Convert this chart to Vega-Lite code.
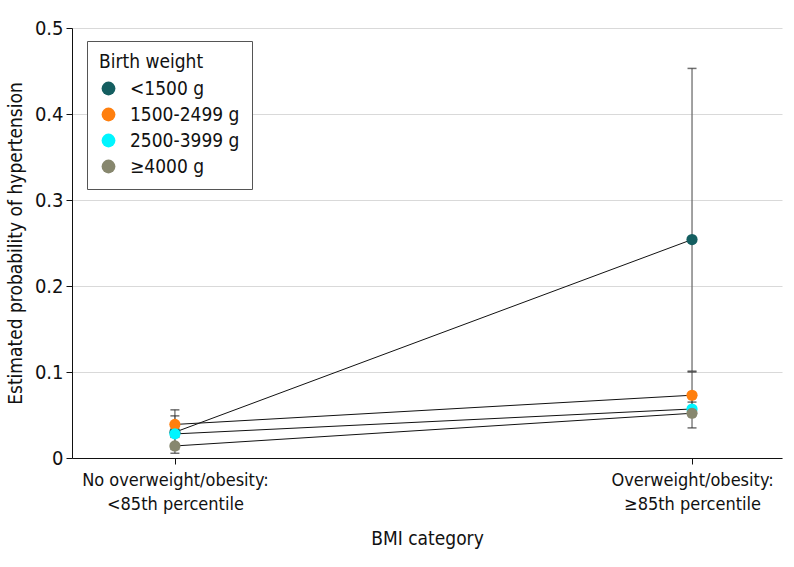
{
  "$schema": "https://vega.github.io/schema/vega-lite/v6.json",
  "width": 710,
  "height": 430,
  "autosize": {"type": "none"},
  "padding": {"left": 72, "top": 28, "right": 12, "bottom": 109},
  "background": "white",
  "config": {
    "font": "DejaVu Sans Condensed, Liberation Sans Narrow, Roboto, sans-serif",
    "view": {"stroke": null},
    "axis": {"labelFontSize": 18, "titleFontSize": 19, "labelColor": "#111", "titleColor": "#111", "titleFontWeight": "normal", "domainColor": "#111", "tickColor": "#111", "labelLimit": 400}
  },
  "data": {"values": [
    {"group": "<1500 g", "bmi": 0, "p": 0.030, "lo": 0.010, "hi": 0.049},
    {"group": "1500-2499 g", "bmi": 0, "p": 0.039, "lo": 0.024, "hi": 0.056},
    {"group": "2500-3999 g", "bmi": 0, "p": 0.028, "lo": 0.025, "hi": 0.032},
    {"group": "≥4000 g", "bmi": 0, "p": 0.014, "lo": 0.0055, "hi": 0.030},
    {"group": "<1500 g", "bmi": 1, "p": 0.254, "lo": 0.101, "hi": 0.453},
    {"group": "1500-2499 g", "bmi": 1, "p": 0.073, "lo": 0.055, "hi": 0.100},
    {"group": "2500-3999 g", "bmi": 1, "p": 0.057, "lo": 0.049, "hi": 0.065},
    {"group": "≥4000 g", "bmi": 1, "p": 0.052, "lo": 0.035, "hi": 0.070}
  ]},
  "encoding": {
    "x": {
      "field": "bmi", "type": "quantitative",
      "scale": {"domain": [-0.199, 1.174], "nice": false, "zero": false},
      "axis": {
        "values": [0, 1], "grid": false, "title": "BMI category", "titlePadding": 16,
        "labelExpr": "datum.value == 0 ? ['No overweight/obesity:', '<85th percentile'] : ['Overweight/obesity:', '≥85th percentile']",
        "labelPadding": 7, "tickSize": 6, "labelLineHeight": 24, "labelOverlap": false, "labelLimit": 400
      }
    },
    "y": {
      "field": "p", "type": "quantitative",
      "scale": {"domain": [0, 0.5], "nice": false},
      "axis": {
        "values": [0, 0.1, 0.2, 0.3, 0.4, 0.5], "format": ".1~f", "labelFontSize": 20,
        "title": "Estimated probability of hypertension", "titlePadding": 9,
        "gridColor": "#d9d9d9", "tickSize": 6, "labelPadding": 3
      }
    }
  },
  "layer": [
    {
      "mark": {"type": "rule", "color": "#6e6e6e", "strokeWidth": 1.3},
      "encoding": {"y": {"field": "lo", "type": "quantitative"}, "y2": {"field": "hi"}}
    },
    {
      "mark": {"type": "tick", "orient": "horizontal", "color": "#333", "size": 9, "thickness": 1.5},
      "encoding": {"y": {"field": "hi", "type": "quantitative"}}
    },
    {
      "mark": {"type": "tick", "orient": "horizontal", "color": "#333", "size": 9, "thickness": 1.5},
      "encoding": {"y": {"field": "lo", "type": "quantitative"}}
    },
    {
      "mark": {"type": "line", "color": "#111", "strokeWidth": 1},
      "encoding": {"detail": {"field": "group"}}
    },
    {
      "mark": {"type": "point", "filled": true, "opacity": 1, "size": 125},
      "encoding": {
        "color": {
          "field": "group", "type": "nominal",
          "scale": {"domain": ["<1500 g", "1500-2499 g", "2500-3999 g", "≥4000 g"], "range": ["#145e60", "#ff7f0e", "#00f5ff", "#87876e"]},
          "legend": {
            "title": "Birth weight", "orient": "none", "legendX": 15, "legendY": 13,
            "strokeColor": "#555", "fillColor": "white", "padding": 12,
            "titleFontSize": 19, "titleFontWeight": "normal", "titleColor": "#111", "titlePadding": 7,
            "labelFontSize": 19, "labelColor": "#111", "symbolSize": 190, "symbolType": "circle",
            "rowPadding": 6, "labelOffset": 12, "symbolStrokeWidth": 0, "labelLimit": 300
          }
        }
      }
    }
  ]
}
